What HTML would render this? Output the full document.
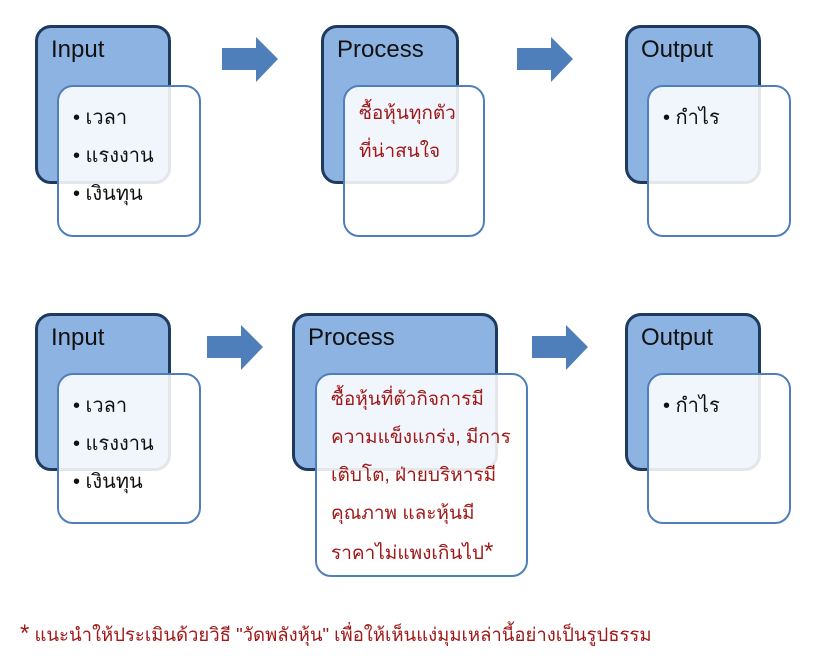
<!DOCTYPE html>
<html><head><meta charset="utf-8"><style>
body{margin:0;width:825px;height:665px;background:#fff;position:relative;overflow:hidden;font-family:"Liberation Sans",sans-serif}
.b{position:absolute;background:#8db3e2;border:3px solid #1f3a5f;border-radius:16px;box-sizing:border-box}
.b span{position:absolute;left:13px;top:8px;font-size:24px;color:#111}
.f{position:absolute;background:rgba(255,255,255,0.88);border:2.5px solid #4f7fba;border-radius:16px;box-sizing:border-box;font-size:20px;color:#111}
.f div{position:absolute;left:14px}
.r{color:#a01818;font-size:19px;line-height:38px;position:absolute;left:14px;top:8px}
.a{position:absolute}
</style></head><body>
<div class="b" style="left:35px;top:25px;width:136px;height:159px"><span>Input</span></div>
<div class="f" style="left:57px;top:85px;width:144px;height:152px"><div style="top:14px">• เวลา</div><div style="top:52px">• แรงงาน</div><div style="top:90px">• เงินทุน</div></div>
<svg class="a" style="left:222px;top:37px" width="56" height="45"><polygon points="0,11 34,11 34,0 56,22 34,45 34,33 0,33" fill="#4f7fba"/></svg>
<div class="b" style="left:321px;top:25px;width:138px;height:159px"><span>Process</span></div>
<div class="f" style="left:343px;top:85px;width:142px;height:152px"><div class="r" style="top:8px">ซื้อหุ้นทุกตัว<br>ที่น่าสนใจ</div></div>
<svg class="a" style="left:517px;top:37px" width="56" height="45"><polygon points="0,11 34,11 34,0 56,22 34,45 34,33 0,33" fill="#4f7fba"/></svg>
<div class="b" style="left:625px;top:25px;width:136px;height:159px"><span>Output</span></div>
<div class="f" style="left:647px;top:85px;width:144px;height:152px"><div style="top:14px">• กำไร</div></div>

<div class="b" style="left:35px;top:313px;width:136px;height:158px"><span>Input</span></div>
<div class="f" style="left:57px;top:373px;width:144px;height:151px"><div style="top:14px">• เวลา</div><div style="top:52px">• แรงงาน</div><div style="top:90px">• เงินทุน</div></div>
<svg class="a" style="left:207px;top:325px" width="56" height="45"><polygon points="0,11 34,11 34,0 56,22 34,45 34,33 0,33" fill="#4f7fba"/></svg>
<div class="b" style="left:292px;top:313px;width:206px;height:158px"><span>Process</span></div>
<div class="f" style="left:315px;top:373px;width:213px;height:204px"><div class="r" style="top:6px">ซื้อหุ้นที่ตัวกิจการมี<br>ความแข็งแกร่ง, มีการ<br>เติบโต, ฝ่ายบริหารมี<br>คุณภาพ และหุ้นมี<br>ราคาไม่แพงเกินไป<span style="font-size:24px">*</span></div></div>
<svg class="a" style="left:532px;top:325px" width="56" height="45"><polygon points="0,11 34,11 34,0 56,22 34,45 34,33 0,33" fill="#4f7fba"/></svg>
<div class="b" style="left:625px;top:313px;width:136px;height:158px"><span>Output</span></div>
<div class="f" style="left:647px;top:373px;width:144px;height:151px"><div style="top:14px">• กำไร</div></div>

<div style="position:absolute;left:20px;top:620px;color:#a01818;font-size:18.5px;white-space:nowrap"><span style="font-size:24px">*</span> แนะนำให้ประเมินด้วยวิธี "วัดพลังหุ้น" เพื่อให้เห็นแง่มุมเหล่านี้อย่างเป็นรูปธรรม</div>
</body></html>
